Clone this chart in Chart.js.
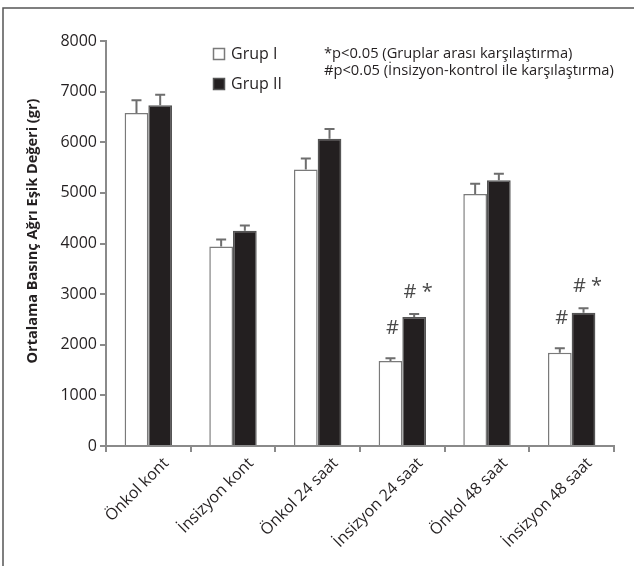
<!DOCTYPE html>
<html>
<head>
<meta charset="utf-8">
<script src="https://cdn.jsdelivr.net/npm/chart.js@4.4.1/dist/chart.umd.min.js"></script>
<style>
  html, body { margin: 0; padding: 0; background: #fff; }
  canvas { display: block; }
</style>
</head>
<body>
<canvas id="c" width="634" height="566"></canvas>
<script>
// Mean pressure pain threshold per group, with upper SEM whiskers
const categories = ['Önkol kont', 'İnsizyon kont', 'Önkol 24 saat', 'İnsizyon 24 saat', 'Önkol 48 saat', 'İnsizyon 48 saat'];
const seriesNames = ['Grup I', 'Grup II'];
const grupI = [6580, 3940, 5460, 1680, 4980, 1840];
const grupIErr = [250, 140, 220, 55, 200, 90];
const grupII = [6730, 4250, 6070, 2550, 5250, 2630];
const grupIIErr = [210, 105, 190, 55, 130, 90];
// significance marks printed above each bar
const grupIMarks = ['', '', '', '#', '', '#'];
const grupIIMarks = ['', '', '', '# *', '', '# *'];
const notes = ['*p<0.05 (Gruplar arası karşılaştırma)', '#p<0.05 (İnsizyon-kontrol ile karşılaştırma)'];
const yTitle = 'Ortalama Basınç Ağrı Eşik Değeri (gr)';
const yMin = 0, yMax = 8000, yStep = 1000;

const FONT = 'Open Sans';
const INK = '#231f20';
const AXIS = '#8a8a8a';
const errors = [grupIErr, grupIIErr];
const marks = [grupIMarks, grupIIMarks];

const decorations = {
  id: 'decorations',
  beforeDraw(chart) {
    const ctx = chart.ctx;
    ctx.save();
    ctx.fillStyle = '#fff';
    ctx.fillRect(0, 0, chart.width, chart.height);
    // frame lines along top and left edges
    ctx.strokeStyle = '#555';
    ctx.lineWidth = 1.5;
    ctx.beginPath();
    ctx.moveTo(634, 8);
    ctx.lineTo(3, 8);
    ctx.lineTo(3, 566);
    ctx.stroke();
    ctx.restore();
  },
  afterDatasetsDraw(chart) {
    const ctx = chart.ctx;
    const y = chart.scales.y;
    ctx.save();
    chart.data.datasets.forEach((ds, di) => {
      const meta = chart.getDatasetMeta(di);
      meta.data.forEach((bar, i) => {
        const top = y.getPixelForValue(ds.data[i] + errors[di][i]);
        // upper whisker with cap
        ctx.strokeStyle = '#6e6e6e';
        ctx.lineWidth = 2;
        ctx.beginPath();
        ctx.moveTo(bar.x, bar.y);
        ctx.lineTo(bar.x, top);
        ctx.moveTo(bar.x - 5, top);
        ctx.lineTo(bar.x + 5, top);
        ctx.stroke();
        const m = marks[di][i];
        if (m) {
          ctx.fillStyle = '#4a4a4a';
          ctx.font = '20px "' + FONT + '"';
          ctx.textAlign = 'center';
          ctx.textBaseline = 'middle';
          const lift = di === 0 ? 30 : 22;
          const dx = di === 0 ? 2 : 4;
          ctx.fillText(m, bar.x + dx, top - lift);
        }
      });
    });
    ctx.restore();
  },
  afterDraw(chart) {
    const ctx = chart.ctx;
    ctx.save();
    // y axis title
    ctx.translate(33, 231);
    ctx.rotate(-Math.PI / 2);
    ctx.fillStyle = INK;
    ctx.font = 'bold 14.5px "' + FONT + '"';
    ctx.textAlign = 'center';
    ctx.textBaseline = 'middle';
    ctx.fillText(yTitle, 0, 0);
    ctx.restore();

    // legend
    ctx.save();
    const rows = [54, 84];
    chart.data.datasets.forEach((ds, di) => {
      const cy = rows[di];
      ctx.fillStyle = ds.backgroundColor;
      ctx.fillRect(213.5, cy - 5.5, 11, 11);
      ctx.strokeStyle = ds.borderColor;
      ctx.lineWidth = 1.5;
      ctx.strokeRect(213.5, cy - 5.5, 11, 11);
      ctx.fillStyle = INK;
      ctx.font = '16px "' + FONT + '"';
      ctx.textAlign = 'left';
      ctx.textBaseline = 'middle';
      ctx.fillText(ds.label, 231, cy);
    });
    // significance notes
    ctx.font = '14.7px "' + FONT + '"';
    ctx.fillStyle = INK;
    ctx.fillText(notes[0], 324, 54);
    ctx.fillText(notes[1], 324, 71);
    ctx.restore();
  }
};

const tickFont = { family: FONT, size: 16 };

new Chart(document.getElementById('c'), {
  type: 'bar',
  data: {
    labels: categories,
    datasets: [
      {
        label: seriesNames[0],
        data: grupI,
        backgroundColor: '#ffffff',
        borderColor: '#7a7a7a',
        borderWidth: 1.5,
        categoryPercentage: 0.56,
        barPercentage: 1.0
      },
      {
        label: seriesNames[1],
        data: grupII,
        backgroundColor: INK,
        borderColor: '#555555',
        borderWidth: 1.5,
        categoryPercentage: 0.56,
        barPercentage: 1.0
      }
    ]
  },
  options: {
    responsive: false,
    animation: false,
    devicePixelRatio: 1,
    layout: { padding: { top: 41, right: 20, left: 0, bottom: 0 } },
    plugins: { legend: { display: false }, tooltip: { enabled: false } },
    scales: {
      x: {
        grid: { drawOnChartArea: false, drawTicks: true, tickLength: 6, color: AXIS, lineWidth: 2, offset: true },
        border: { display: true, color: AXIS, width: 2 },
        ticks: { font: tickFont, color: INK, minRotation: 45, maxRotation: 45, autoSkip: false, padding: 2, labelOffset: 18 },
        afterFit(s) { s.height = 120; }
      },
      y: {
        min: yMin,
        max: yMax,
        grid: { drawOnChartArea: false, drawTicks: true, tickLength: 6, color: AXIS, lineWidth: 2 },
        border: { display: true, color: AXIS, width: 2 },
        ticks: { stepSize: yStep, font: tickFont, color: INK, padding: 3, callback: (v) => String(v) },
        afterFit(s) { s.width = 106; }
      }
    }
  },
  plugins: [decorations]
});
</script>
</body>
</html>
